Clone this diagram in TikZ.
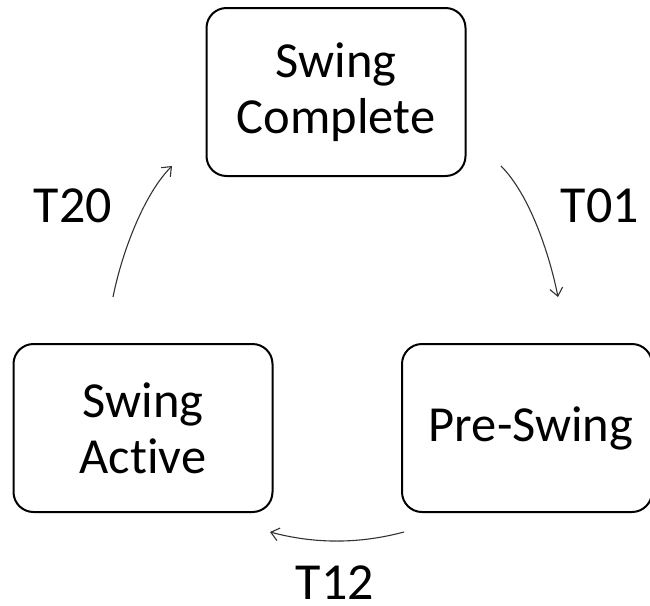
\documentclass[tikz,border=0pt]{standalone}
\usepackage{fontspec}
\setmainfont{Carlito}[Ligatures=NoCommon]
\usetikzlibrary{arrows.meta,calc}
\begin{document}
\begin{tikzpicture}[x=1pt,y=-1pt,
  statebox/.style={draw=black, line width=2pt, rounded corners=20pt,
    minimum width=259pt, minimum height=168pt, inner sep=0pt,
    align=center, font=\fontsize{50.5}{56}\selectfont},
  trans/.style={draw=black!80, line width=1.1pt,
    -{Straight Barb[length=8pt,width=13pt,line width=1.1pt]}},
  tlabel/.style={inner sep=0pt, font=\fontsize{52}{60}\selectfont}]
  \useasboundingbox (0,0) rectangle (650,605);
  \fill[white] (0,0) rectangle (650,605);

  % the three swing states
  \node[statebox] (sc) at (336,92)  {Swing\\Complete};
  \node[statebox] (sa) at (143,428) {Swing\\Active};
  \node[statebox, minimum width=250pt] (ps) at (527,428) {\hspace*{8pt}Pre-Swing};

  % end points of the transition arcs
  \coordinate (t01s) at ($(sc.south east)+(34.5,-11)$);
  \coordinate (t01e) at ($(ps.north west)+(157,-46)$);
  \coordinate (t12s) at ($(ps.south west)+(3,19)$);
  \coordinate (t12e) at ($(sa.south east)+(-3.5,19)$);
  \coordinate (t20s) at ($(sa.north west)+(100.5,-46)$);
  \coordinate (t20e) at ($(sc.south west)+(-33.5,-11)$);

  % transitions
  \draw[trans] (t01s) .. controls ($(t01s)+(28,28)$) and ($(t01e)+(-9,-45)$) .. (t01e);
  \draw[trans] (t12s) .. controls ($(t12s)+(-45,12)$) and ($(t12e)+(45,12)$) .. (t12e);
  \draw[trans] (t20s) .. controls ($(t20s)+(9,-45)$) and ($(t20e)+(-28,28)$) .. (t20e);

  % transition labels
  \node[tlabel] (l01) at (600,206) {T01};
  \node[tlabel] (l12) at (335,583) {T12};
  \node[tlabel] (l20) at (73,206)  {T20};
\end{tikzpicture}
\end{document}
